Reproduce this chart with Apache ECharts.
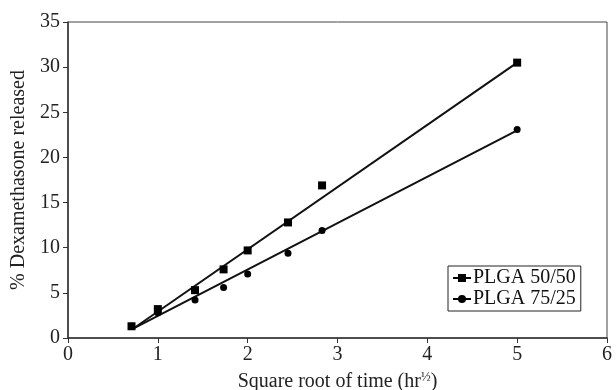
<!DOCTYPE html>
<html>
<head>
<meta charset="utf-8">
<script src="https://cdn.jsdelivr.net/npm/echarts@6/dist/echarts.min.js"></script>
<style>
  html, body { margin: 0; padding: 0; background: #fff; }
  #chart { width: 616px; height: 390px; }
</style>
</head>
<body>
<div id="chart"></div>
<script>
// square root of time (hr^1/2)
const sqrtTime = [0.707, 1, 1.414, 1.732, 2, 2.449, 2.828, 5];
const plga5050 = [1.3, 3.2, 5.3, 7.6, 9.7, 12.8, 16.9, 30.5];
const plga7525 = [1.3, 2.8, 4.2, 5.6, 7.1, 9.4, 11.9, 23.1];

// fitted lines, end points
const fitX = [0.72, 5];
const fit5050 = [1.0, 30.5];
const fit7525 = [1.0, 23.0];

const xTicks = [0, 1, 2, 3, 4, 5, 6];
const yTicks = [0, 5, 10, 15, 20, 25, 30, 35];

const serif = "Liberation Serif, Times New Roman, serif";
const pair = (xs, ys) => xs.map((x, i) => [x, ys[i]]);

const chart = echarts.init(document.getElementById("chart"));

chart.setOption({
    animation: false,
    backgroundColor: "#fff",
    grid: {
        left: 68,
        right: 9,
        top: 22,
        bottom: 52,
        show: true,
        borderColor: "#444",
        borderWidth: 1,
        containLabel: false,
        outerBoundsMode: "none",
    },
    xAxis: {
        type: "value",
        min: xTicks[0],
        max: xTicks[xTicks.length - 1],
        interval: 1,
        name: "Square root of time (hr{sup|½})",
        nameLocation: "middle",
        nameGap: 33,
        nameTextStyle: {
            fontFamily: serif,
            fontSize: 20,
            color: "#222",
            rich: {
                sup: { fontFamily: serif, fontSize: 13, color: "#222", verticalAlign: "top", padding: [0, 0, 9, 0] },
            },
        },
        axisLine: { show: true, lineStyle: { color: "#333", width: 1.5 } },
        axisTick: { show: true, length: 5, lineStyle: { color: "#333" } },
        axisLabel: { fontFamily: serif, fontSize: 20, color: "#222", margin: 7 },
        splitLine: { show: false },
    },
    yAxis: {
        type: "value",
        min: yTicks[0],
        max: yTicks[yTicks.length - 1],
        interval: 5,
        name: "% Dexamethasone released",
        nameLocation: "middle",
        nameGap: 35,
        nameTextStyle: { fontFamily: serif, fontSize: 20, color: "#222" },
        axisLine: { show: true, lineStyle: { color: "#333", width: 1.5 } },
        axisTick: { show: true, length: 5, lineStyle: { color: "#333" } },
        axisLabel: { fontFamily: serif, fontSize: 20, color: "#222", margin: 8 },
        splitLine: { show: false },
    },
    legend: {
        orient: "vertical",
        left: 448,
        top: 266,
        data: ["PLGA 50/50", "PLGA 75/25"],
        backgroundColor: "#fff",
        borderColor: "#222",
        borderWidth: 1,
        borderRadius: 0,
        padding: [2, 5, 2, 4],
        itemGap: 1,
        itemWidth: 18,
        itemHeight: 10,
        lineStyle: { width: 2, opacity: 1, color: "#000" },
        textStyle: { fontFamily: serif, fontSize: 20, color: "#111", padding: [0, 0, 0, -3] },
    },
    series: [
        {
            name: "PLGA 50/50",
            type: "line",
            data: pair(sqrtTime, plga5050),
            symbol: "rect",
            symbolSize: 8,
            itemStyle: { color: "#000" },
            lineStyle: { width: 0, opacity: 0 },
            z: 3,
        },
        {
            name: "PLGA 75/25",
            type: "line",
            data: pair(sqrtTime, plga7525),
            symbol: "circle",
            symbolSize: 7,
            itemStyle: { color: "#000" },
            lineStyle: { width: 0, opacity: 0 },
            z: 3,
        },
        {
            name: "fit 50/50",
            type: "line",
            data: pair(fitX, fit5050),
            showSymbol: false,
            symbol: "none",
            lineStyle: { color: "#111", width: 2 },
            silent: true,
        },
        {
            name: "fit 75/25",
            type: "line",
            data: pair(fitX, fit7525),
            showSymbol: false,
            symbol: "none",
            lineStyle: { color: "#111", width: 2 },
            silent: true,
        },
    ],
});
</script>
</body>
</html>
